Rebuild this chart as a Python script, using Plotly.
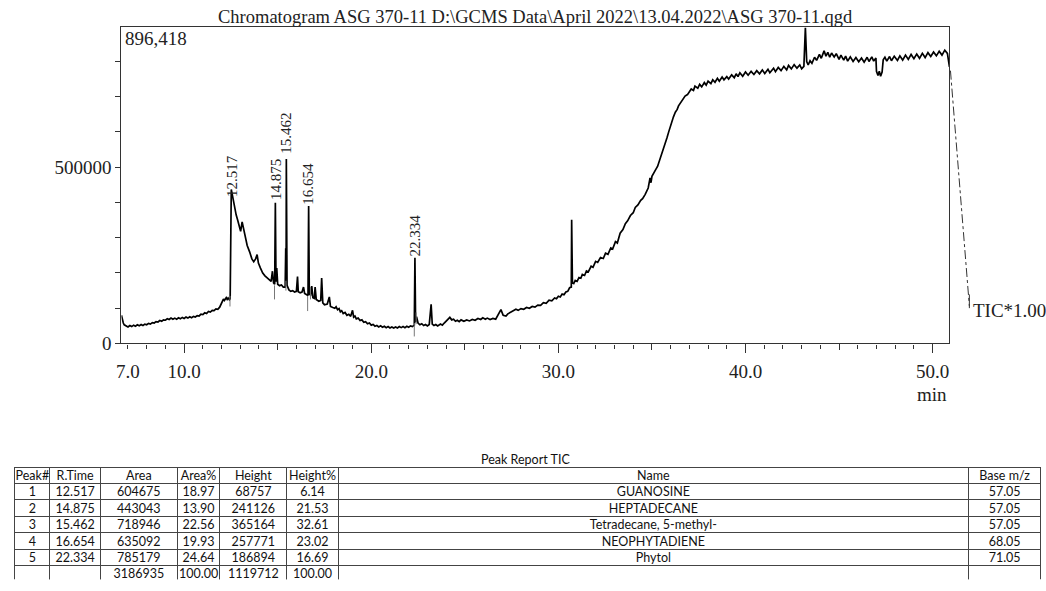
import plotly.graph_objects as go

W, H = 1046, 591

# ---------------- chromatogram data (intensity in thousands of counts) ----------------
# segment A: early baseline
rt_a = [6.65, 6.7, 6.75, 6.8, 6.9, 7.0, 7.1, 7.2, 7.3, 7.4, 7.5, 7.6, 7.7, 7.8, 7.9, 8.0, 8.1, 8.2, 8.3, 8.4,
        8.5, 8.6, 8.7, 8.8, 8.9, 9.0, 9.1, 9.2, 9.3, 9.4, 9.5, 9.6, 9.7, 9.8, 9.9, 10.0, 10.1, 10.2, 10.3,
        10.4, 10.5, 10.6, 10.7, 10.8, 10.9, 11.0, 11.1, 11.2, 11.3, 11.4, 11.5, 11.6, 11.7, 11.8, 11.9,
        11.95, 12.05, 12.1, 12.15, 12.25, 12.3, 12.35, 12.42, 12.46]
tic_a = [80, 66, 58, 53, 50, 47, 51, 48, 52, 49, 53, 50, 54, 51, 55, 53, 57, 55, 59, 58,
         62, 61, 65, 63, 67, 66, 70, 68, 72, 69, 72, 69, 73, 70, 74, 71, 75, 72, 76,
         73, 77, 75, 79, 78, 83, 82, 87, 85, 91, 89, 94, 93, 98, 97, 103,
         108, 120, 126, 122, 130, 125, 129, 124, 127]
# segment B: main peak cluster
rt_b = [12.52, 12.56, 12.62, 12.70, 12.78, 12.86, 12.95, 13.02, 13.10, 13.16, 13.25, 13.37, 13.5, 13.62,
        13.72, 13.82, 13.9, 13.97, 14.08, 14.2, 14.32, 14.43, 14.55, 14.65, 14.72, 14.78, 14.84, 14.875,
        14.91, 14.95, 15.0, 15.1, 15.2, 15.3, 15.40, 15.43, 15.45, 15.462, 15.50, 15.6, 15.7, 15.8, 15.9,
        16.0, 16.06, 16.1, 16.2, 16.3, 16.38, 16.44, 16.55, 16.62, 16.654, 16.69, 16.76, 16.82, 16.88,
        16.96, 17.0, 17.06, 17.2, 17.3, 17.35, 17.41]
tic_b = [437, 425, 410, 385, 365, 350, 330, 318, 345, 330, 300, 278, 260, 240,
         232, 240, 252, 228, 214, 200, 192, 186, 180, 176, 205, 172, 168, 399,
         175, 214, 168, 164, 166, 160, 160, 270, 200, 523, 165, 152, 148, 150, 146,
         148, 190, 147, 144, 146, 160, 142, 138, 136, 390, 140, 138, 163, 130,
         128, 160, 125, 120, 122, 186, 115]
# segment C: tail, valley and slow rise
rt_c = [17.5, 17.65, 17.76, 17.82, 17.95, 18.05, 18.12, 18.2, 18.28, 18.35, 18.42, 18.5, 18.6, 18.7, 18.8,
        18.9, 19.0, 19.06, 19.13, 19.2, 19.3, 19.4, 19.5, 19.6, 19.7, 19.8, 19.9, 20.0, 20.1, 20.2, 20.3,
        20.4, 20.5, 20.6, 20.7, 20.8, 20.9, 21.0, 21.1, 21.2, 21.3, 21.4, 21.5, 21.6, 21.7, 21.8, 21.9,
        22.0, 22.1, 22.2, 22.3, 22.334, 22.37, 22.42, 22.5, 22.6, 22.7, 22.8, 22.9, 23.0, 23.1, 23.2,
        23.26, 23.35, 23.45, 23.55, 23.7, 23.8, 23.9, 24.05, 24.2, 24.3, 24.4, 24.5, 24.6, 24.7, 24.8,
        24.95, 25.1, 25.25, 25.4, 25.55, 25.7, 25.85, 25.96, 26.1, 26.2, 26.35, 26.5, 26.65, 26.75, 26.93,
        27.05, 27.2, 27.3, 27.45, 27.6, 27.73, 27.85, 28.0, 28.15, 28.3, 28.45, 28.6, 28.75, 28.9, 29.05,
        29.2, 29.35, 29.5, 29.65, 29.8, 29.9, 30.0, 30.1, 30.2, 30.3, 30.4, 30.5, 30.6, 30.69]
tic_c = [110, 112, 132, 105, 102, 100, 104, 96, 99, 90, 93, 85, 88, 80, 83,
         77, 94, 75, 78, 70, 72, 65, 67, 60, 62, 56, 58, 52, 54, 49, 51,
         47, 50, 46, 49, 45, 48, 44, 47, 44, 47, 44, 48, 45, 48, 45, 49,
         46, 50, 48, 52, 243, 60, 76, 58, 53, 56, 51, 54, 50, 54, 111,
         55, 51, 54, 50, 55, 52, 58, 66, 74, 67, 69, 63, 66, 62, 67,
         63, 67, 64, 68, 66, 71, 68, 73, 69, 72, 68, 71, 69, 78, 96,
         80, 78, 84, 89, 93, 97, 94, 99, 97, 102, 100, 105, 103, 109, 108,
         116, 114, 123, 121, 129, 127, 134, 132, 140, 138, 146, 148, 158, 160]
# segment D: steep rise
rt_d = [30.71, 30.75, 30.82, 30.9, 31.0, 31.1, 31.2, 31.28, 31.4, 31.5, 31.6, 31.75, 31.85, 31.99, 32.1,
        32.25, 32.4, 32.52, 32.65, 32.8, 32.9, 33.05, 33.15, 33.3, 33.45, 33.58, 33.7, 33.85, 34.0, 34.11,
        34.25, 34.4, 34.5, 34.64, 34.75, 34.8, 34.9, 34.95, 35.0, 35.1, 35.2, 35.3, 35.36, 35.5, 35.6,
        35.7, 35.8, 35.9, 36.0, 36.06, 36.15, 36.25, 36.35, 36.42, 36.5, 36.6, 36.7, 36.77, 36.9]
tic_d = [351, 172, 170, 179, 176, 187, 185, 196, 193, 206, 203, 219, 216, 233, 230,
         244, 241, 256, 253, 271, 268, 289, 285, 313, 323, 340, 348, 363, 371, 386,
         393, 406, 411, 423, 433, 441, 470, 456, 474, 482, 493, 502, 511, 536, 548,
         567, 583, 601, 618, 632, 643, 656, 664, 674, 680, 689, 695, 702, 706]
# segment E: plateau
rt_e = [37.0, 37.1, 37.22, 37.3, 37.45, 37.55, 37.66, 37.8, 37.9, 38.0, 38.15, 38.25, 38.37, 38.5, 38.6,
        38.75, 38.85, 39.0, 39.1, 39.26, 39.4, 39.5, 39.6, 39.7, 39.85, 40.0, 40.14, 40.3, 40.45, 40.6,
        40.75, 40.9, 41.03, 41.2, 41.3, 41.5, 41.6, 41.75, 41.9, 42.05, 42.2, 42.3, 42.45, 42.6, 42.75,
        42.9, 43.0, 43.12, 43.2, 43.27, 43.35, 43.45, 43.55, 43.69, 43.8, 43.95, 44.05, 44.2, 44.3, 44.4,
        44.5, 44.6, 44.74, 44.85, 45.0, 45.1, 45.25, 45.35, 45.46, 45.6, 45.75, 45.9, 46.05, 46.2, 46.34,
        46.5, 46.6, 46.75, 46.85, 46.97, 47.0, 47.08, 47.15, 47.22, 47.3, 47.36, 47.45, 47.55, 47.7, 47.8,
        47.95, 48.12, 48.25, 48.4, 48.55, 48.7, 48.85, 49.0, 49.15, 49.3, 49.45, 49.6, 49.75, 49.9, 50.05,
        50.2, 50.35, 50.5, 50.65, 50.79, 50.9]
tic_e = [715, 722, 718, 730, 724, 735, 728, 740, 733, 744, 737, 748, 741, 752, 744,
         756, 748, 757, 750, 762, 754, 765, 757, 768, 758, 770, 761, 772, 763, 774,
         765, 776, 766, 778, 768, 781, 771, 783, 774, 786, 776, 789, 779, 791, 781,
         790, 779, 786, 896.418, 800, 790, 802, 795, 812, 803, 820, 809, 830, 815, 826,
         812, 824, 813, 822, 806, 818, 804, 815, 801, 813, 800, 811, 799, 810, 798,
         812, 800, 813, 801, 810, 772, 760, 772, 758, 770, 805, 812, 801, 814, 802,
         815, 803, 816, 804, 818, 806, 820, 808, 821, 809, 823, 811, 825, 814, 827,
         816, 829, 818, 832, 823, 785]

rt = rt_a + rt_b + rt_c + rt_d + rt_e
tic = [v * 1000 for v in (tic_a + tic_b + tic_c + tic_d + tic_e)]
assert len(rt) == len(tic)

# integration markers (gray ticks at peak starts / ends)
mark_rt = [12.45, 14.83, 15.44, 16.60, 16.75, 22.30, 22.40]
mark_lo = [105000, 125000, 150000, 92000, 125000, 20000, 55000]
mark_hi = [135000, 165000, 178000, 135000, 160000, 58000, 88000]

# peak labels
peak_rt = [12.517, 14.875, 15.462, 16.654, 22.334]
peak_lbl_center = [476000, 465000, 596000, 452000, 306000]

# axis ticks
x_tick_vals = [7, 10, 20, 30, 40, 50]
x_tick_text = ["7.0", "10.0", "20.0", "30.0", "40.0", "50.0"]
y_tick_vals = [0, 500000]
y_tick_text = ["0", "500000"]
y_max = 896418

# ---------------- peak report table ----------------
col_headers = ["Peak#", "R.Time", "Area", "Area%", "Height", "Height%", "Name", "Base m/z"]
peak_no = ["1", "2", "3", "4", "5", ""]
r_time = ["12.517", "14.875", "15.462", "16.654", "22.334", ""]
area = [604675, 443043, 718946, 635092, 785179, 3186935]
area_pct = [18.97, 13.90, 22.56, 19.93, 24.64, 100.00]
height = [68757, 241126, 365164, 257771, 186894, 1119712]
height_pct = [6.14, 21.53, 32.61, 23.02, 16.69, 100.00]
names = ["GUANOSINE", "HEPTADECANE", "Tetradecane, 5-methyl-", "NEOPHYTADIENE", "Phytol", ""]
base_mz = ["57.05", "57.05", "57.05", "68.05", "71.05", ""]

SERIF = "Liberation Serif"
SANS = "Lato"
AX = "#333333"
TXT = "#222222"

fig = go.Figure()

fig.add_trace(go.Scatter(x=rt, y=tic, mode="lines", line=dict(color="black", width=1.7),
                         xaxis="x", yaxis="y", hoverinfo="skip"))

mx, my = [], []
for r, lo, hi in zip(mark_rt, mark_lo, mark_hi):
    mx += [r, r, None]
    my += [lo, hi, None]
fig.add_trace(go.Scatter(x=mx, y=my, mode="lines", line=dict(color="#777777", width=1),
                         xaxis="x", yaxis="y", hoverinfo="skip"))

# helper invisible traces for extra tick axes
for ax in ["x2", "x3"]:
    fig.add_trace(go.Scatter(x=[10], y=[0], mode="markers", marker=dict(opacity=0),
                             xaxis=ax, yaxis="y", hoverinfo="skip"))

xdom = [117 / W, 949 / W]
ydom = [1 - 350 / H, 1 - 28 / H]
xr = [6.65, 50.9]

col_w = [35, 51, 77, 43, 67, 52, 633, 73]
cell_vals = [peak_no, r_time, [str(v) for v in area], [f"{v:.2f}" for v in area_pct],
             [str(v) for v in height], [f"{v:.2f}" for v in height_pct], names, base_mz]
ROW_H = 16.4
TAB_TOP = 476
TEXT_LIFT = 4.5
tfont = dict(family=SANS, size=12.5, color="#111111")
clear = "rgba(0,0,0,0)"

# grid (lines only)
fig.add_trace(go.Table(
    domain=dict(x=[10 / W, 1041 / W], y=[0, 1 - TAB_TOP / H]),
    columnwidth=col_w,
    header=dict(values=[""] * len(col_headers), height=ROW_H, line=dict(color="#444444", width=1),
                fill=dict(color="white"), font=tfont),
    cells=dict(values=[[""] * len(peak_no) for _ in col_headers], height=ROW_H,
               line=dict(color="#444444", width=1), fill=dict(color="white"), font=tfont),
))
# text layer (lifted slightly to centre text in the rows)
fig.add_trace(go.Table(
    domain=dict(x=[10 / W, 1041 / W], y=[0, 1 - (TAB_TOP - TEXT_LIFT) / H]),
    columnwidth=col_w,
    header=dict(values=col_headers, height=ROW_H, align="center",
                line=dict(color=clear, width=0), fill=dict(color=clear), font=tfont),
    cells=dict(values=cell_vals, height=ROW_H, align="center",
               line=dict(color=clear, width=0), fill=dict(color=clear), font=tfont),
))

fig.update_layout(
    width=W, height=H, margin=dict(l=0, r=0, t=0, b=0),
    paper_bgcolor="white", plot_bgcolor="white", showlegend=False,
    xaxis=dict(domain=xdom, range=xr, anchor="y", tickmode="array", tickvals=x_tick_vals,
               ticktext=x_tick_text, ticks="outside", ticklen=4, tickwidth=1, tickcolor=AX,
               ticklabelstandoff=7,
               showline=True, mirror=True, linecolor=AX, linewidth=1.3, showgrid=False, zeroline=False,
               tickfont=dict(family=SERIF, size=19, color=TXT),
               minor=dict(ticks="outside", ticklen=4, tick0=7, dtick=1, tickcolor=AX, tickwidth=1,
                          showgrid=False)),
    xaxis2=dict(domain=xdom, range=xr, anchor="y", overlaying="x", tickmode="array",
                tickvals=[10, 20, 30, 40, 50], ticks="outside", ticklen=9, tickwidth=1, tickcolor=AX,
                showticklabels=False, showline=False, showgrid=False, zeroline=False),
    xaxis3=dict(domain=xdom, range=xr, anchor="y", overlaying="x", tickmode="array",
                tickvals=[15, 25, 35, 45], ticks="outside", ticklen=6, tickwidth=1, tickcolor=AX,
                showticklabels=False, showline=False, showgrid=False, zeroline=False),
    yaxis=dict(domain=ydom, range=[0, y_max], anchor="x", tickmode="array", tickvals=y_tick_vals,
               ticktext=y_tick_text, ticks="outside", ticklen=5, tickwidth=1, tickcolor=AX,
               showline=True, mirror=True, linecolor=AX, linewidth=1.3, showgrid=False, zeroline=False,
               tickfont=dict(family=SERIF, size=19, color=TXT),
               minor=dict(ticks="outside", ticklen=5, tick0=0, dtick=100000, tickcolor=AX, tickwidth=1,
                          showgrid=False)),
)

ann = []
ann.append(dict(text=r"Chromatogram ASG 370-11 D:\GCMS Data\April 2022\13.04.2022\ASG 370-11.qgd",
                xref="paper", yref="paper", x=533 / W, y=1 - 17 / H, xanchor="center", yanchor="middle",
                showarrow=False, font=dict(family=SERIF, size=18.5, color=TXT)))
ann.append(dict(text=f"{y_max:,}", xref="paper", yref="paper", x=119 / W, y=1 - 39 / H,
                xanchor="left", yanchor="middle", showarrow=False,
                font=dict(family=SERIF, size=19, color=TXT)))
ann.append(dict(text="min", xref="paper", yref="paper", x=949 / W, y=1 - 402 / H,
                xanchor="right", yanchor="middle", showarrow=False,
                font=dict(family=SERIF, size=19, color=TXT)))
ann.append(dict(text="TIC*1.00", xref="paper", yref="paper", x=971 / W, y=1 - 316 / H,
                xanchor="left", yanchor="middle", showarrow=False,
                font=dict(family=SERIF, size=19, color=TXT)))
ann.append(dict(text="Peak Report TIC", xref="paper", yref="paper", x=523 / W, y=1 - 468 / H,
                xanchor="center", yanchor="middle", showarrow=False,
                font=dict(family=SANS, size=12.5, color="#111111")))
for r, c in zip(peak_rt, peak_lbl_center):
    ann.append(dict(text=f"{r:.3f}", x=r, y=c, xref="x", yref="y", textangle=-90,
                    xanchor="center", yanchor="middle", showarrow=False,
                    font=dict(family=SERIF, size=15, color=TXT)))
fig.update_layout(annotations=ann)

fig.add_shape(type="line", xref="paper", yref="paper", x0=950 / W, y0=1 - 72 / H, x1=969 / W, y1=1 - 312 / H,
              line=dict(color="#333333", width=1, dash="dashdot"))
fig.add_shape(type="line", xref="paper", yref="paper", x0=969 / W, y0=1 - 300 / H, x1=969 / W, y1=1 - 314 / H,
              line=dict(color="#333333", width=1))

fig.write_html("out.html", config={"displayModeBar": False},
               post_script="document.body.style.margin='0px';")
